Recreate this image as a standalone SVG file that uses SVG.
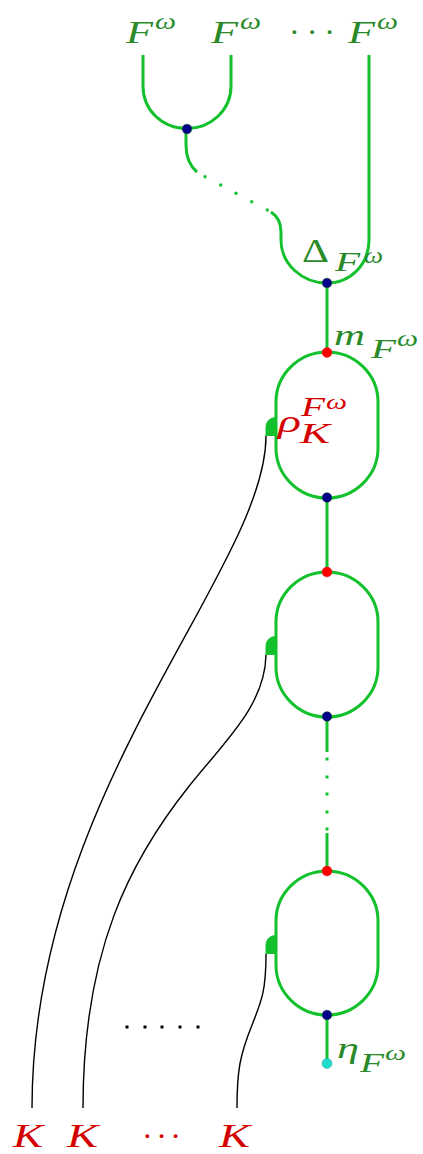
<svg xmlns="http://www.w3.org/2000/svg" width="423" height="1154" viewBox="0 0 423 1154">
<style>
.g{fill:none;stroke:#12c12c;stroke-width:3}
.w{fill:none;stroke:#000;stroke-width:1.4}
.dome{fill:#12c12c}
.gd{fill:#12c12c}
.bd{fill:#000}
.nb{fill:#00008b;stroke:#1a4a1a;stroke-width:0.5}
.nr{fill:#ff0000;stroke:#c83030;stroke-width:0.5}
.nc{fill:#1fdccf;stroke:#20a090;stroke-width:0.5}
.tg{fill:#2a8a2a;font-family:"Liberation Serif",serif}
.tr{fill:#d40000;font-family:"Liberation Serif",serif}
.i{font-style:italic}
</style>
<g id="connectors">
<path class="g" d="M143,55 V86 C143,110 162,128.5 187,128.5 C211,128.5 231,110 231,86 V55"/>
<path class="g" d="M186,129 V145 C186,158 190,166 197,172"/>
<path class="g" d="M271,212 C277,216 281,222 281,232 V240 C281,264 302,283 327,283 C351,283 369,264 369,240 V55"/>
<path class="g" d="M327,283 V352"/>
<path class="g" d="M327,498 V572"/>
<path class="g" d="M327,717 V752"/>
<path class="g" d="M327,833 V871"/>
<path class="g" d="M327,1015 V1063"/>
<path class="w" d="M266,436 C266,570 32,790 32,1108"/>
<path class="w" d="M266,655 C265,705 226,740 190,785 C130,860 83,950 83,1108"/>
<path class="w" d="M266,954 C266,990 262,1000 252,1025 C240,1055 237,1070 237,1108"/>
<g id="dots-top">
<circle class="gd" cx="205" cy="176.7" r="1.7"/>
<circle class="gd" cx="220.7" cy="185" r="1.7"/>
<circle class="gd" cx="236" cy="193.3" r="1.7"/>
<circle class="gd" cx="251.7" cy="201.7" r="1.7"/>
<circle class="gd" cx="267.3" cy="210" r="1.7"/>
</g>
<g id="dots-mid">
<rect class="gd" x="325.5" y="757.5" width="3" height="3"/>
<rect class="gd" x="325.5" y="775.5" width="3" height="3"/>
<rect class="gd" x="325.5" y="792.5" width="3" height="3"/>
<rect class="gd" x="325.5" y="810.5" width="3" height="3"/>
<rect class="gd" x="325.5" y="827.5" width="3" height="3"/>
</g>
<g id="dots-bottom">
<rect class="bd" x="125.5" y="1025.5" width="3" height="3"/>
<rect class="bd" x="143.5" y="1025.5" width="3" height="3"/>
<rect class="bd" x="160.5" y="1025.5" width="3" height="3"/>
<rect class="bd" x="178.5" y="1025.5" width="3" height="3"/>
<rect class="bd" x="196.5" y="1025.5" width="3" height="3"/>
</g>
</g>
<g id="loop1">
<path class="g" d="M327,352 C299,352 276,374.5 276,402 V448 C276,475.5 299,498 327,498 C355,498 378,475.5 378,448 V402 C378,374.5 355,352 327,352 Z"/>
<path class="dome" d="M276,417 C270,417 265.5,421 265.5,428 V436 H276 Z"/>
</g>
<g id="loop2">
<path class="g" d="M327,572 C299,572 276,594.5 276,622 V667 C276,694.5 299,717 327,717 C355,717 378,694.5 378,667 V622 C378,594.5 355,572 327,572 Z"/>
<path class="dome" d="M276,636 C270,636 265.5,640 265.5,647 V655 H276 Z"/>
</g>
<g id="loop3">
<path class="g" d="M327,871 C299,871 276,893.5 276,921 V965 C276,992.5 299,1015 327,1015 C355,1015 378,992.5 378,965 V921 C378,893.5 355,871 327,871 Z"/>
<path class="dome" d="M276,935 C270,935 265.5,939 265.5,946 V954 H276 Z"/>
</g>
<g id="nodes">
<circle id="n-top" class="nb" cx="187" cy="129" r="4.8"/>
<circle id="n-delta" class="nb" cx="327" cy="283" r="4.8"/>
<circle id="n-m1" class="nr" cx="327" cy="352.5" r="5"/>
<circle id="n-b1" class="nb" cx="327" cy="497.5" r="4.8"/>
<circle id="n-m2" class="nr" cx="327" cy="572" r="5"/>
<circle id="n-b2" class="nb" cx="327" cy="716.5" r="4.8"/>
<circle id="n-m3" class="nr" cx="327" cy="871" r="5"/>
<circle id="n-b3" class="nb" cx="327" cy="1015" r="4.8"/>
<circle id="n-eta" class="nc" cx="327" cy="1063.5" r="5"/>
</g>
<g id="labels-top">
<text class="tg i" x="126" y="43" font-size="32" textLength="27" lengthAdjust="spacingAndGlyphs">F</text>
<text class="tg i" x="155" y="29" font-size="24" textLength="21" lengthAdjust="spacingAndGlyphs">ω</text>
<text class="tg i" x="211" y="43" font-size="32" textLength="27" lengthAdjust="spacingAndGlyphs">F</text>
<text class="tg i" x="240" y="29" font-size="24" textLength="21" lengthAdjust="spacingAndGlyphs">ω</text>
<text class="tg" x="289" y="43" font-size="32" letter-spacing="7">···</text>
<text class="tg i" x="348" y="43" font-size="32" textLength="27" lengthAdjust="spacingAndGlyphs">F</text>
<text class="tg i" x="377" y="29" font-size="24" textLength="21" lengthAdjust="spacingAndGlyphs">ω</text>
</g>
<g id="label-delta">
<text class="tg" x="302" y="262" font-size="34" textLength="27" lengthAdjust="spacingAndGlyphs">Δ</text>
<text class="tg i" x="335" y="271" font-size="27" textLength="25" lengthAdjust="spacingAndGlyphs">F</text>
<text class="tg i" x="364" y="263" font-size="23" textLength="19" lengthAdjust="spacingAndGlyphs">ω</text>
</g>
<g id="label-m">
<text class="tg i" x="334" y="345" font-size="30" textLength="31" lengthAdjust="spacingAndGlyphs">m</text>
<text class="tg i" x="371" y="358" font-size="27" textLength="25" lengthAdjust="spacingAndGlyphs">F</text>
<text class="tg i" x="397" y="346" font-size="23" textLength="21" lengthAdjust="spacingAndGlyphs">ω</text>
</g>
<g id="label-rho">
<text class="tr i" x="278" y="432" font-size="32" textLength="23" lengthAdjust="spacingAndGlyphs">ρ</text>
<text class="tr i" x="301" y="416" font-size="27" textLength="24" lengthAdjust="spacingAndGlyphs">F</text>
<text class="tr i" x="326" y="409" font-size="22" textLength="21" lengthAdjust="spacingAndGlyphs">ω</text>
<text class="tr i" x="300" y="443" font-size="30" textLength="30" lengthAdjust="spacingAndGlyphs">K</text>
</g>
<g id="label-eta">
<text class="tg i" x="337" y="1058" font-size="30" textLength="22" lengthAdjust="spacingAndGlyphs">η</text>
<text class="tg i" x="360" y="1072" font-size="27" textLength="24" lengthAdjust="spacingAndGlyphs">F</text>
<text class="tg i" x="385" y="1060" font-size="22" textLength="21" lengthAdjust="spacingAndGlyphs">ω</text>
</g>
<g id="labels-bottom">
<text class="tr i" x="13" y="1147" font-size="34" textLength="30" lengthAdjust="spacingAndGlyphs">K</text>
<text class="tr i" x="67" y="1147" font-size="34" textLength="31" lengthAdjust="spacingAndGlyphs">K</text>
<text class="tr" x="142" y="1147" font-size="32" letter-spacing="3.5">···</text>
<text class="tr i" x="219" y="1147" font-size="34" textLength="31" lengthAdjust="spacingAndGlyphs">K</text>
</g>
</svg>
